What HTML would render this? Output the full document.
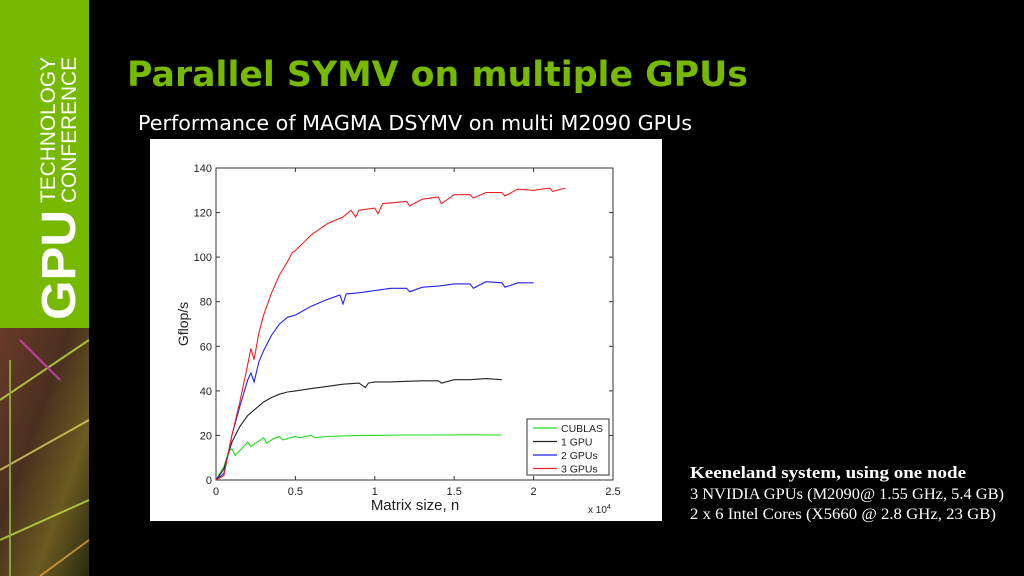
<!DOCTYPE html>
<html><head><meta charset="utf-8"><style>
html,body{margin:0;padding:0;background:#000;width:1024px;height:576px;overflow:hidden}
svg{display:block}
</style></head><body>
<svg id="page" width="1024" height="576" viewBox="0 0 1024 576" xmlns="http://www.w3.org/2000/svg">
<defs>
<linearGradient id="chip" x1="0" y1="0" x2="1" y2="1">
<stop offset="0" stop-color="#6a3a2a"/><stop offset="0.4" stop-color="#4a3020"/><stop offset="0.7" stop-color="#6b5a20"/><stop offset="1" stop-color="#2a2a10"/>
</linearGradient>
</defs>
<rect width="1024" height="576" fill="#000"/>
<g>
<rect x="0" y="0" width="89" height="328" fill="#76b900"/>
<rect x="0" y="328" width="89" height="248" fill="url(#chip)"/>
<g stroke-width="2" fill="none" opacity="0.8">
<path d="M0 400 L89 340" stroke="#c0e040"/><path d="M0 470 L89 420" stroke="#e0d060"/>
<path d="M20 340 L60 380" stroke="#e040c0"/><path d="M0 540 L89 500" stroke="#c0e040"/>
<path d="M40 576 L89 540" stroke="#e0a040"/><path d="M10 360 L10 576" stroke="#90c040"/>
</g>
<text transform="translate(75,320) rotate(-90)" font-family="Liberation Sans, sans-serif" font-weight="bold" font-size="48" fill="#fff" textLength="110" lengthAdjust="spacingAndGlyphs">GPU</text>
<text transform="translate(55,203) rotate(-90)" font-family="Liberation Sans, sans-serif" font-size="21" fill="#fff" textLength="146" lengthAdjust="spacingAndGlyphs">TECHNOLOGY</text>
<text transform="translate(76,203) rotate(-90)" font-family="Liberation Sans, sans-serif" font-size="21" fill="#fff" textLength="146" lengthAdjust="spacingAndGlyphs">CONFERENCE</text>
</g>
<text x="127" y="86" font-family="DejaVu Sans, Liberation Sans, sans-serif" font-weight="bold" font-size="35" fill="#76b900" textLength="621" lengthAdjust="spacingAndGlyphs">Parallel SYMV on multiple GPUs</text>
<text x="138" y="130" font-family="DejaVu Sans, Liberation Sans, sans-serif" font-size="20" fill="#fff" textLength="554" lengthAdjust="spacingAndGlyphs">Performance of MAGMA DSYMV on multi M2090 GPUs</text>
<rect x="150" y="139" width="512" height="382" fill="#fff"/>
<g id="chart"></g>
<g font-family="Liberation Serif, serif" font-size="16" fill="#fff">
<text x="690" y="478" font-weight="bold" font-size="17" textLength="276" lengthAdjust="spacingAndGlyphs">Keeneland system, using one node</text>
<text x="690" y="499" textLength="314" lengthAdjust="spacingAndGlyphs">3 NVIDIA GPUs (M2090@ 1.55 GHz, 5.4 GB)</text>
<text x="690" y="519" textLength="306" lengthAdjust="spacingAndGlyphs">2 x 6 Intel Cores  (X5660 @ 2.8 GHz, 23 GB)</text>
</g>
</svg>
<script>
const xTicks=[0,0.5,1,1.5,2,2.5];
const yTicks=[0,20,40,60,80,100,120,140];
const seriesNames=["CUBLAS","1 GPU","2 GPUs","3 GPUs"];
const seriesColors=["#22dd22","#222222","#2222ee","#ee2222"];
const xCublas=[0,0.05,0.08,0.1,0.12,0.16,0.2,0.22,0.26,0.3,0.32,0.36,0.4,0.42,0.5,0.52,0.6,0.62,0.7,0.8,0.9,1.0,1.2,1.4,1.6,1.8];
const yCublas=[0,6,13,14,11,14,17,15,17,19,16.5,18.5,19.5,18,19.5,19,20,19,19.5,19.8,20,20,20.2,20.2,20.3,20.2];
const x1=[0,0.05,0.1,0.15,0.2,0.25,0.3,0.35,0.4,0.45,0.5,0.6,0.7,0.8,0.9,0.94,0.96,1.0,1.1,1.2,1.3,1.4,1.42,1.5,1.6,1.7,1.8];
const y1=[0,5,17,24,29,32,35,37,38.5,39.5,40,41,42,43,43.5,41.5,43.5,44,44,44.3,44.5,44.5,43.5,45,45,45.5,45];
const x2=[0,0.05,0.1,0.15,0.2,0.22,0.24,0.27,0.3,0.35,0.4,0.45,0.5,0.55,0.6,0.7,0.78,0.8,0.82,0.9,1.0,1.1,1.2,1.22,1.3,1.4,1.5,1.6,1.62,1.7,1.8,1.82,1.9,2.0];
const y2=[0,3,20,33,45,48,44,53,58,65,70,73,74,76,78,81,83,79,83.5,84,85,86,86,84.5,86.5,87,88,88,86,89,88.5,86.5,88.5,88.5];
const x3=[0,0.05,0.1,0.15,0.2,0.22,0.24,0.27,0.3,0.35,0.4,0.45,0.48,0.5,0.6,0.7,0.8,0.85,0.88,0.9,1.0,1.02,1.05,1.2,1.22,1.3,1.4,1.42,1.5,1.6,1.62,1.7,1.8,1.82,1.9,2.0,2.1,2.12,2.2];
const y3=[0,2,20,35,52,59,54,66,74,84,92,98,102,103,110,115,118,121,118,121,122,119.5,124,125,123,126,127,124,128,128,126.5,129,129,127.5,130.5,130,131,129.5,131];
const xs=[xCublas,x1,x2,x3], ys=[yCublas,y1,y2,y3];
const NS="http://www.w3.org/2000/svg";
const L=216,R=613,T=168,B=480;
const sx=v=>L+(v-0)/(2.5-0)*(R-L);
const sy=v=>B-(v-0)/(140-0)*(B-T);
const g=document.getElementById('chart');
function mk(tag,attrs){const e=document.createElementNS(NS,tag);for(const k in attrs)e.setAttribute(k,attrs[k]);return e;}
const frame=mk('rect',{x:L,y:T,width:R-L,height:B-T,fill:'none',stroke:'#333','stroke-width':1});


g.appendChild(frame);
xTicks.forEach(t=>{
  const l=mk('path',{d:`M${sx(t)} ${B} v-4 M${sx(t)} ${T} v4`,stroke:'#333'});
  
  
  g.appendChild(l);
  const tx=mk('text',{x:sx(t),y:B+15,'text-anchor':'middle','font-family':'Liberation Sans, sans-serif','font-size':11,fill:'#222'});
  tx.textContent=String(t);
  
  
  g.appendChild(tx);
});
yTicks.forEach(t=>{
  const l=mk('path',{d:`M${L} ${sy(t)} h4 M${R} ${sy(t)} h-4`,stroke:'#333'});
  
  
  g.appendChild(l);
  const tx=mk('text',{x:L-4,y:sy(t)+4,'text-anchor':'end','font-family':'Liberation Sans, sans-serif','font-size':11,fill:'#222'});
  tx.textContent=String(t);
  
  
  g.appendChild(tx);
});
const xt=mk('text',{x:415,y:510,'text-anchor':'middle','font-family':'Liberation Sans, sans-serif','font-size':15,fill:'#222'});
xt.textContent='Matrix size, n';


g.appendChild(xt);
const xm=mk('text',{x:588,y:513,'font-family':'Liberation Sans, sans-serif','font-size':10,fill:'#222'});
xm.innerHTML='x 10<tspan dy="-4" font-size="7">4</tspan>';


g.appendChild(xm);
const yt=mk('text',{transform:'translate(188,324) rotate(-90)','text-anchor':'middle','font-family':'Liberation Sans, sans-serif','font-size':14,fill:'#222'});
yt.textContent='Gflop/s';


g.appendChild(yt);
xs.forEach((xa,i)=>{
  const d=xa.map((x,j)=>(j?'L':'M')+sx(x).toFixed(1)+' '+sy(ys[i][j]).toFixed(1)).join(' ');
  const p=mk('path',{d:d,fill:'none',stroke:seriesColors[i],'stroke-width':1.1});
  
  
  g.appendChild(p);
});
const lg=mk('rect',{x:527,y:419,width:82,height:56,fill:'#fff',stroke:'#333'});


g.appendChild(lg);
seriesNames.forEach((n,i)=>{
  const y=428+i*13.5;
  const l=mk('path',{d:`M533 ${y} h24`,stroke:seriesColors[i],'stroke-width':1.2});
  
  
  g.appendChild(l);
  const t=mk('text',{x:561,y:y+4,'font-family':'Liberation Sans, sans-serif','font-size':10.5,fill:'#222'});
  t.textContent=n;
  
  
  g.appendChild(t);
});
</script>
</body></html>
